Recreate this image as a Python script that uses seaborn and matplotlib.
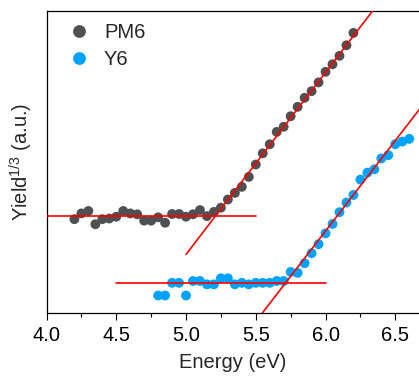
import numpy as np
import pandas as pd
import matplotlib
matplotlib.use("Agg")
import matplotlib.pyplot as plt
import seaborn as sns
from matplotlib.ticker import MultipleLocator

# ---- data ----
pm6_energy = [4.20, 4.25, 4.30, 4.35, 4.40, 4.45, 4.50, 4.55, 4.60, 4.65,
              4.70, 4.75, 4.80, 4.85, 4.90, 4.95, 5.00, 5.05, 5.10, 5.15,
              5.20, 5.25, 5.30, 5.35, 5.40, 5.45, 5.50, 5.55, 5.60, 5.65,
              5.70, 5.75, 5.80, 5.85, 5.90, 5.95, 6.00, 6.05, 6.10, 6.15, 6.20]
pm6_yield = [31.1, 33.0, 33.8, 29.4, 31.1, 31.3, 31.9, 33.8, 33.0, 32.7,
             30.6, 30.6, 31.7, 29.9, 32.8, 32.8, 31.9, 32.7, 34.1, 32.1,
             33.5, 34.9, 37.6, 39.8, 41.8, 45.1, 49.2, 52.9, 55.9, 60.0,
             61.7, 65.2, 68.3, 71.3, 73.5, 76.4, 79.9, 82.4, 85.2, 88.7, 92.8]

y6_energy = [4.80, 4.85, 4.90, 4.95, 5.00, 5.05, 5.10, 5.15, 5.20, 5.25,
             5.30, 5.35, 5.40, 5.45, 5.50, 5.55, 5.60, 5.65, 5.70, 5.75,
             5.80, 5.85, 5.90, 5.95, 6.00, 6.05, 6.10, 6.15, 6.20, 6.25,
             6.30, 6.35, 6.40, 6.45, 6.50, 6.55, 6.60]
y6_yield = [5.8, 5.8, 10.0, 10.0, 5.8, 10.6, 10.6, 9.5, 9.5, 11.5,
            11.5, 9.5, 10.0, 9.5, 10.0, 10.0, 10.0, 10.6, 10.6, 13.6,
            13.3, 16.5, 19.8, 22.8, 26.4, 29.5, 33.4, 36.6, 39.1, 44.2,
            46.5, 47.6, 51.2, 52.3, 55.9, 56.8, 57.7]

# fit lines (endpoints in energy / yield units)
pm6_base_E = [4.0, 5.5]
pm6_base_y = [32.0, 32.0]
pm6_slope_E = [5.0, 6.5]
pm6_slope_y = [19.4, 109.9]
y6_base_E = [4.5, 6.0]
y6_base_y = [10.0, 10.0]
y6_slope_E = [5.547, 6.75]
y6_slope_y = [0.0, 72.1]

series_names = ["PM6", "Y6"]
x_ticks = [4.0, 4.5, 5.0, 5.5, 6.0, 6.5]

df = pd.DataFrame({
    "Energy": pm6_energy + y6_energy,
    "Yield": pm6_yield + y6_yield,
    "Sample": [series_names[0]] * len(pm6_energy) + [series_names[1]] * len(y6_energy),
})

sns.set_style("ticks")
plt.rcParams["font.family"] = ["Liberation Sans", "DejaVu Sans"]
plt.rcParams["mathtext.fontset"] = "custom"
plt.rcParams["mathtext.rm"] = "Liberation Sans"

fig = plt.figure(figsize=(4.19, 3.85), dpi=100)
ax = fig.add_axes([0.111, 0.187, 0.889, 0.784])

sns.scatterplot(data=df, x="Energy", y="Yield", hue="Sample",
                palette={"PM6": "#505050", "Y6": "#00A2FF"},
                s=50, linewidth=0, ax=ax, zorder=2)

red = "#FF0000"
for ex, ey in [(pm6_base_E, pm6_base_y), (pm6_slope_E, pm6_slope_y),
               (y6_base_E, y6_base_y), (y6_slope_E, y6_slope_y)]:
    sns.lineplot(x=ex, y=ey, color=red, linewidth=1.2, ax=ax, zorder=3,
                 legend=False, estimator=None, sort=False)

ax.set_xlim(4.0, 6.67)
ax.set_ylim(0, 100)
ax.set_xticks(x_ticks)
ax.set_xticklabels([f"{t:.1f}" for t in x_ticks])
ax.xaxis.set_minor_locator(MultipleLocator(0.25))
ax.set_yticks([])
ax.tick_params(axis="x", which="major", direction="out", length=5, width=0.8,
               labelsize=14.5, pad=4, color="black", labelcolor="black")
ax.tick_params(axis="x", which="minor", direction="out", length=3, width=0.8,
               color="black")
for side in ["left", "bottom", "top"]:
    ax.spines[side].set_visible(True)
    ax.spines[side].set_linewidth(0.9)
    ax.spines[side].set_color("black")
ax.spines["right"].set_visible(False)

ax.set_xlabel("Energy (eV)", fontsize=14.5, labelpad=6)
ax.set_ylabel("Yield$^{1/3}$ (a.u.)", fontsize=14.5, labelpad=8)

leg = ax.legend(loc="upper left", frameon=False, fontsize=14.5,
                handlelength=1.0, handletextpad=0.72, borderpad=0,
                borderaxespad=0, labelspacing=0.42, markerscale=1.3,
                bbox_to_anchor=(69.3 / 419, 1 - 23 / 385),
                bbox_transform=fig.transFigure)

fig.savefig("out.png", dpi=100)
